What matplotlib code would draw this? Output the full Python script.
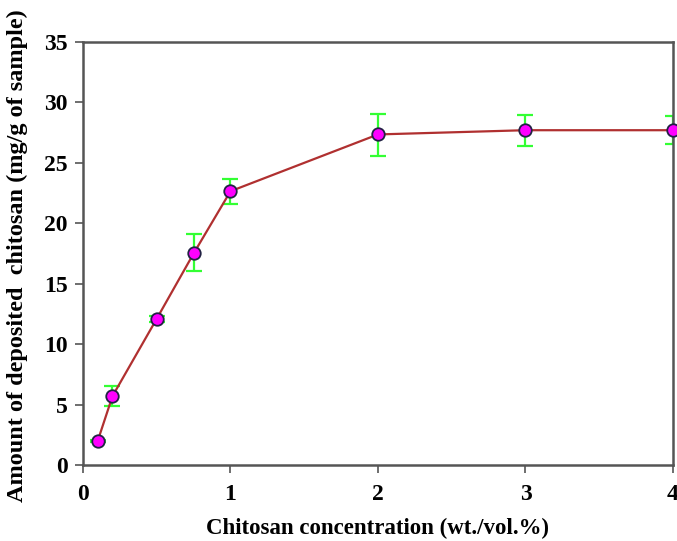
import matplotlib.pyplot as plt

# Chitosan concentration (wt./vol.%) vs deposited amount
conc = [0.1, 0.2, 0.5, 0.75, 1, 2, 3, 4]
deposited = [2.0, 5.7, 12.1, 17.5, 22.65, 27.35, 27.7, 27.7]
err_low = [0.1, 0.85, 0.25, 1.45, 1.05, 1.75, 1.3, 1.1]
err_high = [0.1, 0.8, 0.25, 1.6, 1.05, 1.65, 1.25, 1.2]

x_ticks = [0, 1, 2, 3, 4]
y_ticks = [0, 5, 10, 15, 20, 25, 30, 35]

plt.rcParams['font.family'] = ['Liberation Serif', 'DejaVu Serif']
plt.rcParams['font.weight'] = 'bold'

fig = plt.figure(figsize=(6.77, 5.41), dpi=100)
ax = fig.add_axes([0.1226, 0.1405, 0.8714, 0.7819])

ax.errorbar(conc, deposited, yerr=[err_low, err_high], fmt='none',
            ecolor='#33ff33', elinewidth=1.6, capsize=6, capthick=1.6, zorder=2)
ax.plot(conc, deposited, color='#b03030', linewidth=1.6, zorder=3)
ax.plot(conc, deposited, 'o', markersize=9, markerfacecolor='#ff00ff',
        markeredgecolor='#222244', markeredgewidth=1.3, zorder=4, clip_on=False)

ax.set_xlim(0, 4)
ax.set_ylim(0, 35)
ax.set_xticks(x_ticks)
ax.set_yticks(y_ticks)
ax.tick_params(direction='out', length=6, width=1.2, color='#555555',
               labelsize=17, top=False, right=False)
ax.tick_params(axis='x', pad=8)
ax.tick_params(axis='y', pad=5)
for s in ax.spines.values():
    s.set_color('#555555')
    s.set_linewidth(1.8)

ax.set_xlabel('Chitosan concentration (wt./vol.%)', fontsize=16.5,
              fontweight='bold')
ax.set_ylabel('Amount of deposited  chitosan (mg/g of sample)', fontsize=17.5,
              fontweight='bold')
ax.xaxis.set_label_coords(0.5, -0.125)
ax.yaxis.set_label_coords(-0.093, 0.494)

fig.savefig('out.png', dpi=100)
